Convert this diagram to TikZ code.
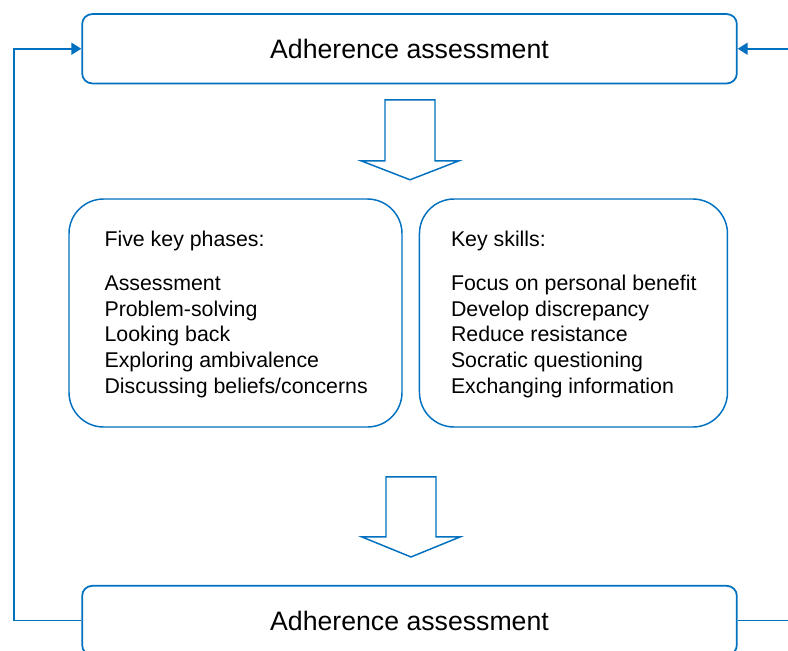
\documentclass[tikz,border=0pt]{standalone}
\usepackage{fontspec}
\setmainfont{Liberation Sans}
\usetikzlibrary{arrows.meta,positioning}
\definecolor{lineblue}{RGB}{0,112,192}
\tikzset{
    %Define standard arrow tip
    >={Triangle[length=7.5pt,width=9pt]},
    %Define style for boxes
    assess/.style={
           rectangle,
           rounded corners=7.5pt,
           draw=lineblue, line width=1.3pt,
           minimum width=491pt,
           minimum height=52pt,
           font=\fontsize{20}{24}\selectfont,
           text centered,
           },
    listbox/.style={
           rectangle,
           rounded corners=26pt,
           draw=lineblue, line width=1.1pt,
           minimum height=171pt,
           },
    listtext/.style={
           anchor=north west,
           inner sep=0pt,
           align=left,
           font=\fontsize{16}{19.3}\selectfont,
           },
    % Define block arrow style
    blockarrow/.style={
           draw=lineblue, line width=1.1pt,
           fill=white, line join=miter,
           },
    % Define connector style
    pil/.style={
           draw=lineblue, line width=1.3pt,},
}
\begin{document}
\begin{tikzpicture}[x=0.75pt,y=-0.75pt]
\useasboundingbox (0,0) rectangle (788,650);
\node[assess] (adhtop) at (409.5,48.75) {Adherence assessment};
\node[listbox, minimum width=249.75pt] (phases) at (235.5,313) {};
\node[listbox, minimum width=231pt, right=12pt of phases] (skills) {};
\node[assess] (adhbot) at (409.5,620.5) {Adherence assessment};
\node[listtext] (phasestext) at ([shift={(36,32.5)}]phases.north west) {Five key phases:\\[13.7pt]
  Assessment\\ Problem-solving\\ Looking back\\ Exploring ambivalence\\ Discussing beliefs/concerns};
\node[listtext] (skillstext) at ([shift={(32,32.5)}]skills.north west) {Key skills:\\[13.7pt]
  Focus on personal benefit\\ Develop discrepancy\\ Reduce resistance\\ Socratic questioning\\ Exchanging information};
% block arrows between the stages
\draw[blockarrow] ([shift={(0.5,15.5)}]adhtop.south) ++(-25,0) -- ++(50,0) -- ++(0,61) -- ++(24,0)
  -- ++(-49,19) -- ++(-49,-19) -- ++(24,0) -- cycle;
\draw[blockarrow] ([shift={(1.5,-108)}]adhbot.north) ++(-25,0) -- ++(50,0) -- ++(0,60) -- ++(24,0)
  -- ++(-49,20) -- ++(-49,-20) -- ++(24,0) -- cycle;
% feedback loops
\coordinate (righttop) at (790,48.75);
\coordinate (rightbot) at (790,620.5);
\draw[pil,->] (adhbot.west) -- ++(-67,0) |- (adhtop.west);
\draw[pil] (adhbot.east) -- (rightbot);
\draw[pil,->] (righttop) -- (adhtop.east);
\end{tikzpicture}
\end{document}
